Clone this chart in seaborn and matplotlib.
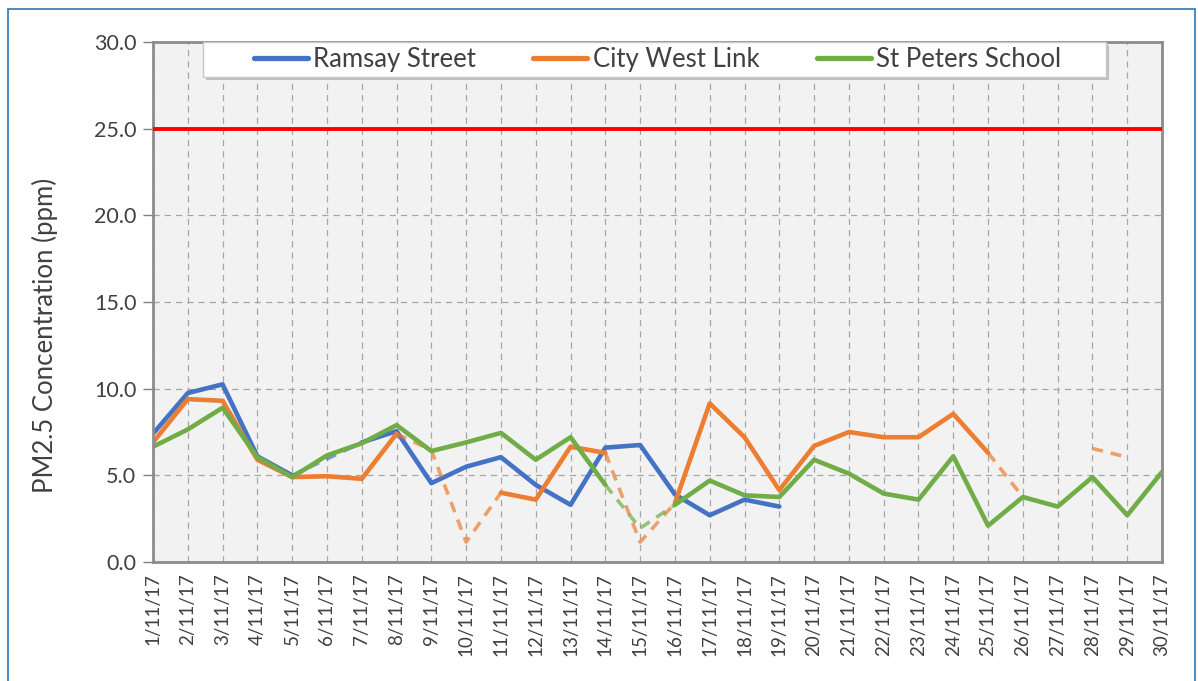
import numpy as np
import pandas as pd
import matplotlib.pyplot as plt
import seaborn as sns
from matplotlib.patches import Rectangle

# Daily PM2.5 averages, November 2017 (NaN = no data)
days = [f"{d}/11/17" for d in range(1, 31)]

ramsay = [7.4, 9.75, 10.25, 6.1, 5.0, 5.95, 6.9, 7.55, 4.55, 5.5,
          6.05, 4.45, 3.3, 6.6, 6.75, 3.9, 2.7, 3.6, 3.2, np.nan,
          np.nan, np.nan, np.nan, np.nan, np.nan, np.nan, np.nan, np.nan, np.nan, np.nan]
city_west = [6.9, 9.4, 9.3, 5.9, 4.9, 4.95, 4.8, 7.4, 6.45, 1.15,
             4.0, 3.6, 6.65, 6.3, 1.15, 3.4, 9.15, 7.2, 4.15, 6.7,
             7.5, 7.2, 7.2, 8.55, 6.3, 3.75, np.nan, 6.55, 6.05, np.nan]
st_peters = [6.65, 7.65, 8.9, 6.05, 4.9, 6.15, 6.85, 7.9, 6.4, 6.9,
             7.45, 5.9, 7.2, 4.45, 1.95, 3.3, 4.7, 3.85, 3.75, 5.9,
             5.1, 3.95, 3.6, 6.1, 2.1, 3.75, 3.2, 4.9, 2.7, 5.2]

# days (index) whose values are flagged -> drawn dashed
ramsay_flag = [5]
city_west_flag = [8, 9, 14, 25, 27, 28]
st_peters_flag = [14]

series = [
    ("Ramsay Street", ramsay, ramsay_flag, "#4472C4"),
    ("City West Link", city_west, city_west_flag, "#ED7D31"),
    ("St Peters School", st_peters, st_peters_flag, "#70AD47"),
]
guideline = 25.0
yticks = [0, 5, 10, 15, 20, 25, 30]


def segments(values):
    """Split a series into contiguous non-NaN runs for plotting"""
    vals = np.asarray(values, dtype=float)
    seg = np.cumsum(np.isnan(vals))
    df = pd.DataFrame({"day": np.arange(len(vals)), "val": vals, "seg": seg})
    return df.dropna()


def split_flagged(values, flags):
    vals = np.asarray(values, dtype=float)
    solid = vals.copy()
    solid[flags] = np.nan
    keep = np.zeros(len(vals), dtype=bool)
    for i in flags:
        keep[max(i - 1, 0):i + 2] = True
    dashed = np.where(keep, vals, np.nan)
    return solid, dashed


sns.set_style("whitegrid")
plt.rcParams["font.family"] = ["Lato", "DejaVu Sans"]

fig = plt.figure(figsize=(11.98, 6.81), dpi=100)
ax = fig.add_axes([0.1277, 0.1747, 0.8423, 0.7636])
ax.set_facecolor("#F2F2F2")

for name, vals, flags, color in series:
    solid, dashed = split_flagged(vals, flags)
    sns.lineplot(data=segments(dashed), x="day", y="val", units="seg", estimator=None,
                 color=color, lw=2.6, ls=(0, (3, 2.2)), alpha=0.7, ax=ax, legend=False)
    sns.lineplot(data=segments(solid), x="day", y="val", units="seg", estimator=None,
                 color=color, lw=3.3, ax=ax, legend=False)
    ax.plot([], [], color=color, lw=3.8, label=name, solid_capstyle="round")

ax.axhline(guideline, color="#FF0000", lw=2.8, zorder=3)

ax.set_xlim(0, len(days) - 1)
ax.set_ylim(0, 30)
ax.set_xticks(range(len(days)))
ax.set_xticklabels(days, rotation=90, fontsize=13.5, color="#404040")
ax.set_yticks(yticks)
ax.set_yticklabels([f"{v:.1f}" for v in yticks], fontsize=15.5, color="#404040")
ax.set_xlabel("")
ax.set_ylabel("PM2.5 Concentration (ppm)", fontsize=18.5, color="#404040")
ax.yaxis.set_label_coords(-0.094, 0.4365)
ax.tick_params(axis="y", length=7, width=1, color="#808080", pad=5, left=True)
ax.tick_params(axis="x", length=0, pad=8)

ax.grid(True, color="#A6A6A6", ls=(0, (5, 4)), lw=0.9)
for s in ax.spines.values():
    s.set_color("#8C8C8C")
    s.set_linewidth(2)

# legend box (wider than its entries, with a soft shadow)
ax.add_patch(Rectangle((0.0526, 0.927), 0.895, 0.0673, transform=ax.transAxes,
                       facecolor="#BFBFBF", edgecolor="none", clip_on=False, zorder=5))
ax.add_patch(Rectangle((0.0496, 0.932), 0.895, 0.0673, transform=ax.transAxes,
                       facecolor="white", edgecolor="#C8C8C8", lw=1, clip_on=False, zorder=5))
leg = ax.legend(loc="center", bbox_to_anchor=(0.5, 0.966), ncol=3, fontsize=18.5,
                frameon=False, handlelength=2.1, columnspacing=2.25,
                borderpad=0.1, handletextpad=0.2)
leg.set_zorder(6)
for t in leg.get_texts():
    t.set_color("#404040")

fig.patches.append(Rectangle((8 / 1198, -0.01), 1187 / 1198, 1 - 9 / 681 + 0.01,
                             transform=fig.transFigure, fill=False,
                             edgecolor="#2E75B6", lw=1.2))

fig.savefig("out.png", dpi=100)
